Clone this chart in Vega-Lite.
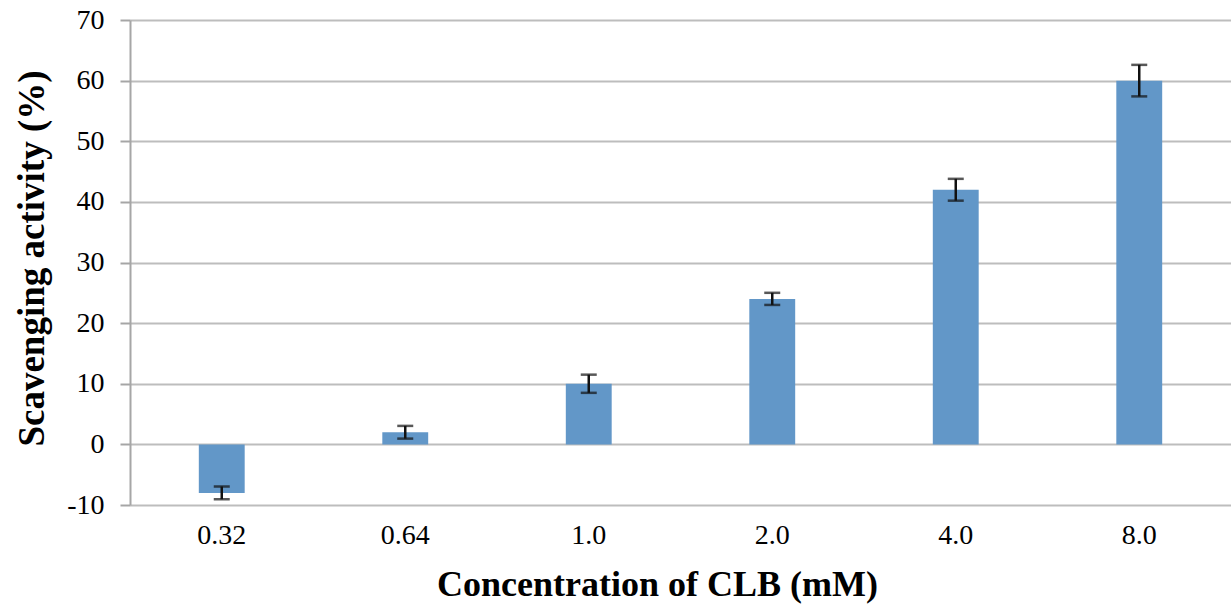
{
  "$schema": "https://vega.github.io/schema/vega-lite/v6.json",
  "autosize": {"type": "none"},
  "padding": {"left": 130, "top": 20, "right": 0, "bottom": 103},
  "width": 1101,
  "height": 485,
  "background": "white",
  "config": {
    "view": {"stroke": null},
    "font": "Liberation Serif"
  },
  "data": {
    "values": [
      {"conc": "0.32", "value": -8, "err": 1.05},
      {"conc": "0.64", "value": 2, "err": 1.05},
      {"conc": "1.0", "value": 10, "err": 1.5},
      {"conc": "2.0", "value": 24, "err": 1.0},
      {"conc": "4.0", "value": 42, "err": 1.8},
      {"conc": "8.0", "value": 60, "err": 2.6}
    ]
  },
  "encoding": {
    "x": {
      "field": "conc",
      "type": "nominal",
      "sort": null,
      "scale": {"paddingInner": 0.75, "paddingOuter": 0.375},
      "axis": {
        "title": "Concentration of CLB (mM)",
        "titleFont": "Liberation Serif",
        "titleFontSize": 36,
        "titleFontWeight": "bold",
        "titleColor": "#000",
        "titleX": 527,
        "titleAlign": "center",
        "titlePadding": 18,
        "labelFont": "Liberation Serif",
        "labelFontSize": 28,
        "labelColor": "#000",
        "labelAngle": 0,
        "labelPadding": 16,
        "ticks": false,
        "domain": false,
        "grid": false
      }
    }
  },
  "layer": [
    {
      "mark": {"type": "bar", "color": "#6297C8"},
      "encoding": {
        "y": {
          "field": "value",
          "type": "quantitative",
          "title": "Scavenging activity (%)",
          "scale": {"domain": [-10, 70], "nice": false, "zero": false},
          "axis": {
            "title": "Scavenging activity (%)",
            "titleFont": "Liberation Serif",
            "titleFontSize": 37,
            "titleFontWeight": "bold",
            "titleColor": "#000",
            "titleY": 238,
            "titlePadding": 15,
            "labelFont": "Liberation Serif",
            "labelFontSize": 28,
            "labelColor": "#000",
            "labelPadding": 16,
            "labelExpr": "'' + datum.value",
            "values": [-10, 0, 10, 20, 30, 40, 50, 60, 70],
            "tickSize": 10,
            "tickColor": "#a6a6a6",
            "tickWidth": 2,
            "domainColor": "#a6a6a6",
            "domainWidth": 2,
            "grid": true,
            "gridColor": "#bdbdbd",
            "gridWidth": 2
          }
        }
      }
    },
    {
      "mark": {
        "type": "errorbar",
        "ticks": {"color": "#111", "size": 16, "thickness": 2.5},
        "rule": {"color": "#111", "strokeWidth": 2.5}
      },
      "encoding": {
        "y": {"field": "value", "type": "quantitative", "title": "Scavenging activity (%)"},
        "yError": {"field": "err"}
      }
    }
  ]
}
